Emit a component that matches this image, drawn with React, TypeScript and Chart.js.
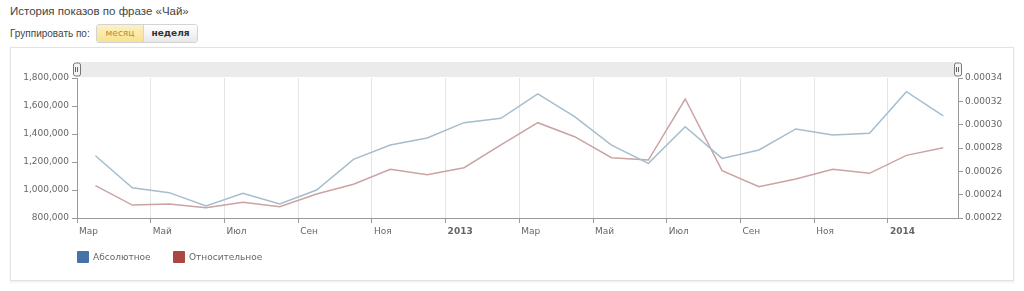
import React, { useEffect, useRef } from "react";
import { Chart, registerables } from "chart.js";

Chart.register(...registerables);

// Months: Mar 2012 ... Feb 2014 (points placed mid-month)
const monthIndex = [0, 1, 2, 3, 4, 5, 6, 7, 8, 9, 10, 11, 12, 13, 14, 15, 16, 17, 18, 19, 20, 21, 22, 23];

const absoluteValues = [
  1245000, 1016000, 981000, 886000, 976000, 900000, 1000000, 1219000,
  1321000, 1371000, 1481000, 1512000, 1686000, 1524000, 1321000, 1190000,
  1452000, 1226000, 1286000, 1436000, 1393000, 1405000, 1702000, 1529000,
];

const relativeValues = [
  0.0002477, 0.0002311, 0.000232, 0.0002288, 0.0002334, 0.0002297, 0.0002406, 0.0002489,
  0.0002617, 0.0002571, 0.0002631, 0.0002826, 0.0003017, 0.0002897, 0.0002717, 0.0002697,
  0.000322, 0.0002606, 0.0002469, 0.0002534, 0.0002617, 0.0002583, 0.0002737, 0.0002803,
];

const tickPositions = [0, 2, 4, 6, 8, 10, 12, 14, 16, 18, 20, 22];
const tickLabels = ["Мар", "Май", "Июл", "Сен", "Ноя", "2013", "Мар", "Май", "Июл", "Сен", "Ноя", "2014"];

const seriesNames = ["Абсолютное", "Относительное"];
const legendColors = ["#4572A7", "#AA4643"];
const lineColors = ["#a6bdcd", "#cba3a3"];

const FONT = "'DejaVu Sans', Verdana, sans-serif";

const navigatorPlugin = {
  id: "navigatorBand",
  beforeDraw(chart: any) {
    const { ctx, chartArea } = chart;
    const { left, right, top } = chartArea;
    ctx.save();
    ctx.fillStyle = "#ebebeb";
    ctx.fillRect(left, top - 16, right - left, 15);
    const handle = (x: number) => {
      const w = 7;
      const h = 13;
      const y = top - 15;
      ctx.beginPath();
      const r = 2;
      const x0 = x - w / 2;
      ctx.moveTo(x0 + r, y);
      ctx.lineTo(x0 + w - r, y);
      ctx.quadraticCurveTo(x0 + w, y, x0 + w, y + r);
      ctx.lineTo(x0 + w, y + h - r);
      ctx.quadraticCurveTo(x0 + w, y + h, x0 + w - r, y + h);
      ctx.lineTo(x0 + r, y + h);
      ctx.quadraticCurveTo(x0, y + h, x0, y + h - r);
      ctx.lineTo(x0, y + r);
      ctx.quadraticCurveTo(x0, y, x0 + r, y);
      ctx.closePath();
      ctx.fillStyle = "#f4f4f4";
      ctx.fill();
      ctx.strokeStyle = "#777";
      ctx.lineWidth = 1;
      ctx.stroke();
      ctx.beginPath();
      ctx.moveTo(Math.round(x) - 1.5, y + 4);
      ctx.lineTo(Math.round(x) - 1.5, y + h - 4);
      ctx.moveTo(Math.round(x) + 0.5, y + 4);
      ctx.lineTo(Math.round(x) + 0.5, y + h - 4);
      ctx.strokeStyle = "#666";
      ctx.stroke();
    };
    handle(left);
    handle(right);
    ctx.restore();
  },
};

export default function App() {
  const canvasRef = useRef<HTMLCanvasElement | null>(null);

  useEffect(() => {
    if (!canvasRef.current) return;
    const chart = new Chart(canvasRef.current, {
      type: "line",
      data: {
        datasets: [
          {
            label: seriesNames[0],
            data: monthIndex.map((m, i) => ({ x: m + 0.5, y: absoluteValues[i] })),
            borderColor: lineColors[0],
            backgroundColor: legendColors[0],
            borderWidth: 1.5,
            pointRadius: 0,
            tension: 0,
            yAxisID: "y",
          },
          {
            label: seriesNames[1],
            data: monthIndex.map((m, i) => ({ x: m + 0.5, y: relativeValues[i] })),
            borderColor: lineColors[1],
            backgroundColor: legendColors[1],
            borderWidth: 1.5,
            pointRadius: 0,
            tension: 0,
            yAxisID: "y1",
          },
        ],
      },
      options: {
        responsive: false,
        animation: false,
        layout: { padding: { left: 0, right: 0, top: 78, bottom: 0 } },
        plugins: { legend: { display: false }, tooltip: { enabled: false } },
        scales: {
          x: {
            type: "linear",
            min: 0,
            max: 23.9,
            afterFit(scale: any) {
              scale.height = 73;
            },
            afterBuildTicks(scale: any) {
              scale.ticks = tickPositions.map((v) => ({ value: v }));
            },
            grid: {
              color: "#e4e4e4",
              tickColor: "#999",
              tickLength: 5,
              drawOnChartArea: true,
            },
            border: { color: "#999", width: 1 },
            ticks: {
              autoSkip: false,
              maxRotation: 0,
              align: "start",
              labelOffset: 2,
              padding: 3,
              color: "#666",
              font: (ctx: any) => ({
                family: FONT,
                size: 9,
                weight: ctx.tick && /^\d{4}$/.test(String(ctx.tick.label)) ? "bold" : "normal",
              }),
              callback: (v: any) => {
                const idx = tickPositions.indexOf(Number(v));
                return idx >= 0 ? tickLabels[idx] : "";
              },
            },
          },
          y: {
            position: "left",
            min: 800000,
            max: 1800000,
            afterFit(scale: any) {
              scale.width = 77;
            },
            grid: { drawOnChartArea: false, tickLength: 5, tickColor: "#999" },
            border: { color: "#999", width: 1 },
            ticks: {
              stepSize: 200000,
              padding: 3,
              color: "#666",
              font: { family: FONT, size: 9 },
              callback: (v: any) => Number(v).toLocaleString("en-US"),
            },
          },
          y1: {
            position: "right",
            min: 0.00022,
            max: 0.00034,
            afterFit(scale: any) {
              scale.width = 66;
            },
            grid: { drawOnChartArea: false, tickLength: 5, tickColor: "#999" },
            border: { color: "#999", width: 1 },
            ticks: {
              stepSize: 0.00002,
              padding: 2,
              color: "#666",
              font: { family: FONT, size: 9 },
              callback: (v: any) => Number(v).toFixed(5),
            },
          },
        },
      },
      plugins: [navigatorPlugin],
    } as any);
    return () => chart.destroy();
  }, []);

  return (
    <div style={{ position: "absolute", left: 0, top: 0, width: 1024, height: 291, background: "#fff", overflow: "hidden" }}>
      <div
        style={{
          position: "absolute",
          left: 10,
          top: 5,
          fontFamily: "'Liberation Sans', Arial, sans-serif",
          fontSize: 11.5,
          color: "#444",
        }}
      >
        История показов по фразе «Чай»
      </div>
      <div
        style={{
          position: "absolute",
          left: 10,
          top: 28,
          fontFamily: "'Liberation Sans', Arial, sans-serif",
          fontSize: 10,
          color: "#444",
        }}
      >
        Группировать по:
      </div>
      <div
        style={{
          position: "absolute",
          left: 96,
          top: 24,
          height: 17,
          display: "flex",
          border: "1px solid #d4d4d4",
          borderRadius: 3,
          overflow: "hidden",
          fontFamily: "'DejaVu Sans', Verdana, sans-serif",
          fontSize: 9,
          lineHeight: "17px",
        }}
      >
        <div style={{ width: 46, textAlign: "center", background: "linear-gradient(#fdf1c4, #f8e28f)", color: "#b48c3e" }}>месяц</div>
        <div style={{ width: 53, textAlign: "center", background: "linear-gradient(#ffffff, #e8e8e8)", color: "#333", fontWeight: "bold", borderLeft: "1px solid #d4d4d4" }}>неделя</div>
      </div>
      <div
        style={{
          position: "absolute",
          left: 10,
          top: 47,
          width: 1002,
          height: 232,
          border: "1px solid #e2e2e2",
          boxShadow: "0 1px 2px rgba(0,0,0,0.08)",
        }}
      />
      <canvas ref={canvasRef} width={1024} height={291} style={{ position: "absolute", left: 0, top: 0 }} />
      {seriesNames.map((name, i) => (
        <div
          key={name}
          style={{
            position: "absolute",
            left: i === 0 ? 77 : 173,
            top: 251,
            display: "flex",
            alignItems: "center",
            fontFamily: FONT,
            fontSize: 9,
            color: "#666",
          }}
        >
          <span style={{ display: "inline-block", width: 12, height: 12, background: legendColors[i], marginRight: 4, borderRadius: 1 }} />
          {name}
        </div>
      ))}
    </div>
  );
}
